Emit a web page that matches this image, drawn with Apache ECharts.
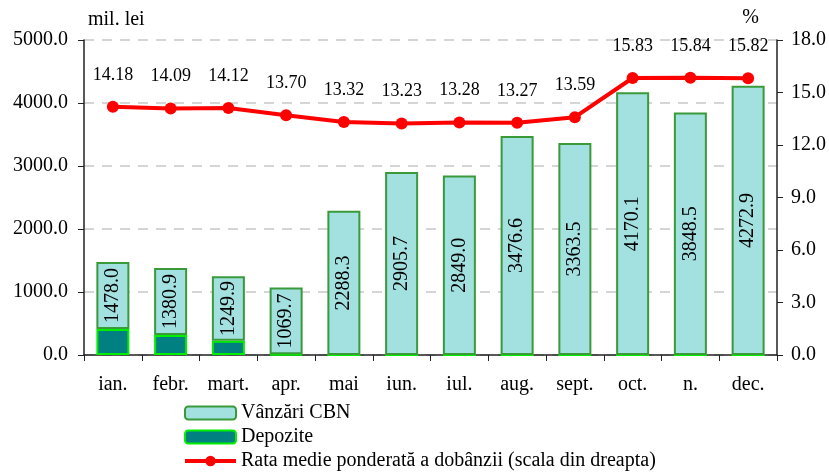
<!DOCTYPE html>
<html>
<head>
<meta charset="utf-8">
<script src="https://cdn.jsdelivr.net/npm/echarts@6/dist/echarts.min.js"></script>
<style>
  html, body { margin: 0; padding: 0; background: #fff; }
  #main { width: 829px; height: 473px; }
</style>
</head>
<body>
<div id="main"></div>
<script>
var months = ['ian.', 'febr.', 'mart.', 'apr.', 'mai', 'iun.', 'iul.', 'aug.', 'sept.', 'oct.', 'n.', 'dec.'];
var vanzari = [1478.0, 1380.9, 1249.9, 1069.7, 2288.3, 2905.7, 2849.0, 3476.6, 3363.5, 4170.1, 3848.5, 4272.9];
var depozite = [413, 317, 227, 10, 0, 0, 0, 0, 0, 0, 0, 0];
var rata = [14.18, 14.09, 14.12, 13.70, 13.32, 13.23, 13.28, 13.27, 13.59, 15.83, 15.84, 15.82];
var leftTicks = [0, 1000, 2000, 3000, 4000, 5000];
var rightTicks = [0, 3, 6, 9, 12, 15, 18];

var font = 'Liberation Serif';
var lineName = 'Rata medie ponderată a dobânzii (scala din dreapta)';
var chart = echarts.init(document.getElementById('main'));

// the light bar sits on top of the deposits, its label shows the full value
var upper = vanzari.map(function (v, i) { return v - depozite[i]; });

chart.setOption({
  animation: false,
  textStyle: { fontFamily: font, color: '#000' },
  grid: { left: 84, right: 49, top: 40, bottom: 118 },
  legend: {
    orient: 'vertical',
    left: 183,
    top: 403,
    padding: 0,
    itemGap: 4,
    itemWidth: 51,
    itemHeight: 13,
    textStyle: { fontFamily: font, fontSize: 20, color: '#000' },
    data: [
      'Vânzări CBN',
      'Depozite',
      { name: lineName, lineStyle: { width: 4, color: '#ff0000' }, itemStyle: { color: '#ff0000' } }
    ]
  },
  xAxis: {
    type: 'category',
    data: months,
    axisLine: { lineStyle: { color: '#222', width: 1.5 } },
    axisTick: { show: true, length: 6, lineStyle: { color: '#222' } },
    axisLabel: { fontFamily: font, fontSize: 20, color: '#000', margin: 20 }
  },
  yAxis: [
    {
      type: 'value',
      min: leftTicks[0],
      max: leftTicks[leftTicks.length - 1],
      interval: 1000,
      name: 'mil. lei',
      nameGap: 10,
      nameTextStyle: { fontFamily: font, fontSize: 20, color: '#000', align: 'left', padding: [0, 0, 0, 4] },
      axisLine: { show: true, lineStyle: { color: '#222', width: 1.5 } },
      axisTick: { show: true, length: 6, lineStyle: { color: '#222' } },
      axisLabel: {
        fontFamily: font, fontSize: 20, color: '#000', margin: 16,
        formatter: function (v) { return v.toFixed(1); }
      },
      splitLine: { show: true, lineStyle: { color: '#c8c8c8', type: [10, 8], width: 1.5 } }
    },
    {
      type: 'value',
      min: rightTicks[0],
      max: rightTicks[rightTicks.length - 1],
      interval: 3,
      name: '%',
      nameGap: 12,
      nameTextStyle: { fontFamily: font, fontSize: 20, color: '#000', align: 'right', padding: [0, 18, 0, 0] },
      axisLine: { show: true, lineStyle: { color: '#222', width: 1.5 } },
      axisTick: { show: true, length: 6, lineStyle: { color: '#222' } },
      axisLabel: {
        fontFamily: font, fontSize: 20, color: '#000', margin: 14,
        formatter: function (v) { return v.toFixed(1); }
      },
      splitLine: { show: false }
    }
  ],
  series: [
    {
      name: 'Depozite',
      type: 'bar',
      stack: 'b',
      barWidth: 33,
      data: depozite,
      itemStyle: { color: '#008080', borderColor: '#00ee00', borderWidth: 2 },
      z: 2
    },
    {
      name: 'Vânzări CBN',
      type: 'bar',
      stack: 'b',
      barWidth: 33,
      data: upper,
      itemStyle: { color: '#a3e0e0', borderColor: '#3a9a3a', borderWidth: 2 },
      label: {
        show: true,
        position: 'inside',
        rotate: 90,
        fontFamily: font,
        fontSize: 20,
        color: '#000',
        formatter: function (p) { return vanzari[p.dataIndex].toFixed(1); }
      },
      z: 2
    },
    {
      name: lineName,
      type: 'line',
      yAxisIndex: 1,
      data: rata,
      symbol: 'circle',
      symbolSize: 12,
      lineStyle: { color: '#ff0000', width: 4 },
      itemStyle: { color: '#ff0000' },
      label: {
        show: true,
        position: 'top',
        distance: 17,
        fontFamily: font,
        fontSize: 18,
        color: '#000',
        formatter: function (p) { return p.value.toFixed(2); }
      },
      z: 5
    }
  ]
});
</script>
</body>
</html>
